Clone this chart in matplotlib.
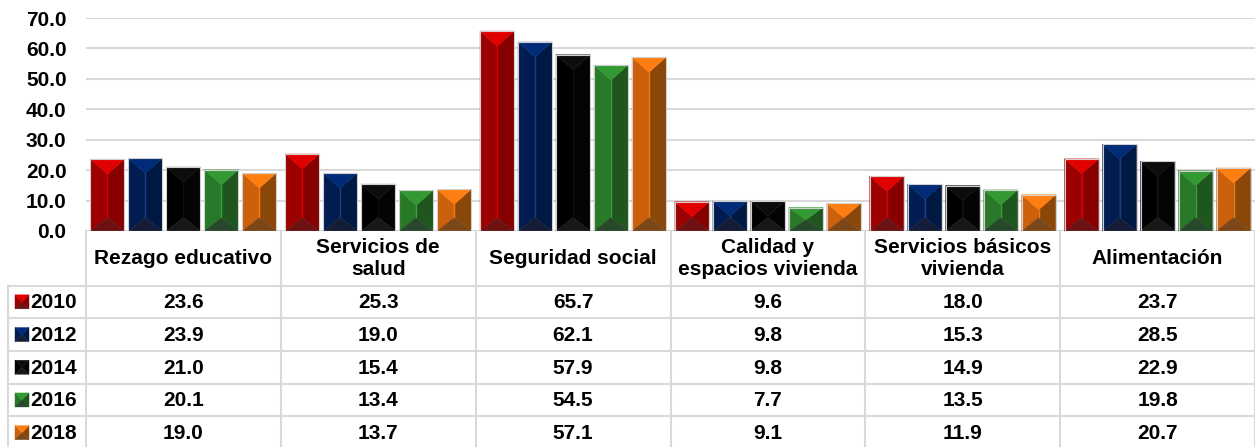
import matplotlib
matplotlib.use("Agg")
import matplotlib.pyplot as plt
from matplotlib.patches import Polygon

plt.rcParams['font.family'] = ['Liberation Sans', 'DejaVu Sans']
plt.rcParams['font.weight'] = 'bold'

categories = ["Rezago educativo", "Servicios de\nsalud", "Seguridad social",
              "Calidad y\nespacios vivienda", "Servicios básicos\nvivienda", "Alimentación"]
years = ["2010", "2012", "2014", "2016", "2018"]
v2010 = [23.6, 25.3, 65.7, 9.6, 18.0, 23.7]
v2012 = [23.9, 19.0, 62.1, 9.8, 15.3, 28.5]
v2014 = [21.0, 15.4, 57.9, 9.8, 14.9, 22.9]
v2016 = [20.1, 13.4, 54.5, 7.7, 13.5, 19.8]
v2018 = [19.0, 13.7, 57.1, 9.1, 11.9, 20.7]
series = [v2010, v2012, v2014, v2016, v2018]

# top, left, right, bottom, ridge
palette = [
    ("#E00000", "#9C0000", "#860000", "#6C1212", "#D80000"),
    ("#002B78", "#001C50", "#001943", "#151C38", "#1C3C84"),
    ("#0C0C0C", "#000000", "#040404", "#171717", "#0E0E0E"),
    ("#339933", "#287A28", "#1E561E", "#27482A", "#3C9E3C"),
    ("#FF7E11", "#CC600C", "#8A4709", "#7C4718", "#F47C10"),
]

W, H = 1255, 447
fig = plt.figure(figsize=(W / 100, H / 100), dpi=100)
x_left, x_right = 86, 1255
y_zero, y_top = 231, 18
ax = fig.add_axes([x_left / W, (H - y_zero) / H, (x_right - x_left) / W, (y_zero - y_top) / H])
ax.set_xlim(0, len(categories))
ax.set_ylim(0, 70)
px_x = (x_right - x_left) / len(categories)
px_y = (y_zero - y_top) / 70.0
FS = 15


def bevel(a, x0, w, base, h, cols, sx, sy, depth_t=0.44, depth_b=0.40,
          ridge=True, outline=True, zo=3):
    top, left, right, bot, rc = cols
    wpx, hpx = w * sx, abs(h) * sy
    dt, db = depth_t * wpx, depth_b * wpx
    if dt + db > hpx:
        k = hpx / (dt + db)
        dt, db = dt * k, db * k
    dt, db = dt / sy, db / sy
    if h < 0:
        dt, db = -dt, -db
    xc, x1 = x0 + w / 2, x0 + w
    yb, yt = base, base + h
    polys = [
        ([(x0, yb), (x0, yt), (xc, yt - dt), (xc, yb + db)], left),
        ([(x1, yb), (x1, yt), (xc, yt - dt), (xc, yb + db)], right),
        ([(x0, yt), (x1, yt), (xc, yt - dt)], top),
        ([(x0, yb), (x1, yb), (xc, yb + db)], bot),
    ]
    for pts, c in polys:
        a.add_patch(Polygon(pts, closed=True, fc=c, ec=c, lw=0.3, zorder=zo))
    if ridge:
        a.plot([xc, xc], [yt - dt, yb + db], color=rc, lw=1.0, zorder=zo + 0.1)
    if outline:
        a.add_patch(Polygon([(x0, yb), (x1, yb), (x1, yt), (x0, yt)], closed=True,
                            fill=False, ec="#D0D0D0", lw=0.8, zorder=zo + 0.2))


slot = 38 / px_x
bw = 34 / px_x
margin = (1 - (4 * slot + bw)) / 2
for j, vals in enumerate(series):
    for i, v in enumerate(vals):
        bevel(ax, i + margin + j * slot, bw, 0, v, palette[j], px_x, px_y)

ax.set_yticks(range(0, 71, 10))
ax.set_yticklabels(["%.1f" % t for t in range(0, 71, 10)], fontsize=FS, fontweight='bold')
ax.tick_params(axis='y', length=0, pad=14)
ax.set_xticks([])
ax.grid(axis='y', color="#D9D9D9", lw=1.5, zorder=0)
ax.set_axisbelow(True)
for s in ax.spines.values():
    s.set_visible(False)

# table underneath, drawn in pixel coordinates
tab = fig.add_axes([0, 0, 1, 1], zorder=-1)
tab.set_xlim(0, W)
tab.set_ylim(H, 0)
tab.axis('off')
grid_c = "#D9D9D9"
head_bot = 285.5
row_h = 32.7
tab_bot = head_bot + row_h * len(years) + 2
label_left = 8
for i in range(len(categories) + 1):
    x = x_left + i * px_x
    tab.plot([x, x], [y_zero, tab_bot], color=grid_c, lw=1.5)
tab.plot([label_left, label_left], [head_bot, tab_bot], color=grid_c, lw=1.5)
for r in range(len(years) + 1):
    y = head_bot + r * row_h
    tab.plot([label_left, W], [y, y], color=grid_c, lw=1.5)

for i, c in enumerate(categories):
    tab.text(x_left + (i + 0.5) * px_x, 258.5, c, ha='center', va='center',
             fontsize=FS, fontweight='bold', linespacing=1.2)

for j, (yr, vals) in enumerate(zip(years, series)):
    yc = head_bot + (j + 0.5) * row_h
    bevel(tab, 15, 14, yc + 7, -14, palette[j], 1, 1, 0.5, 0.5,
          ridge=False, outline=False)
    tab.text(30, yc + 1, yr, ha='left', va='center', fontsize=FS, fontweight='bold')
    for i, v in enumerate(vals):
        tab.text(x_left + (i + 0.5) * px_x, yc + 1, "%.1f" % v, ha='center', va='center',
                 fontsize=FS, fontweight='bold')

fig.savefig("out.png", dpi=100)
